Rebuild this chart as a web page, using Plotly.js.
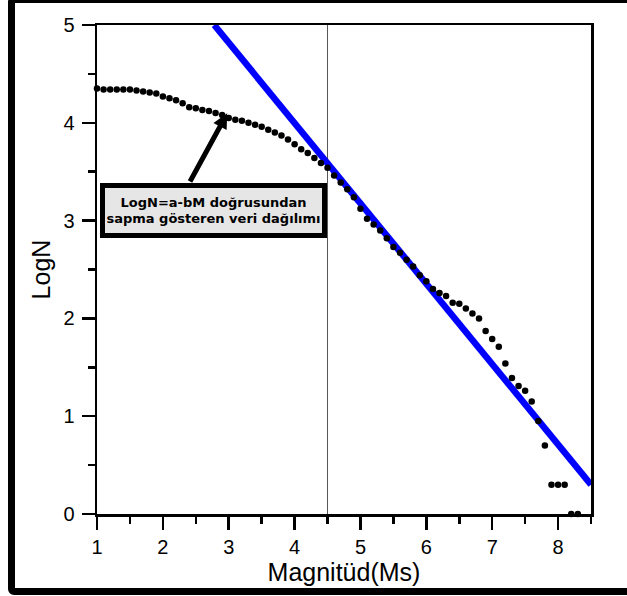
<!DOCTYPE html>
<html>
<head>
<meta charset="utf-8">
<script src="https://cdn.plot.ly/plotly-3.0.1.min.js"></script>
<style>
  html, body { margin: 0; padding: 0; background: #fff; overflow: hidden; }
  #wrap { position: relative; width: 627px; height: 596px; overflow: hidden; }
  #chart { position: absolute; left: 0; top: 0; width: 627px; height: 596px; }
  #frame {
    position: absolute; left: 8px; top: -4px; width: 640px; height: 599px;
    border: 7px solid #000; border-radius: 6px; box-sizing: border-box;
    pointer-events: none;
  }
</style>
</head>
<body>
<div id="wrap">
  <div id="chart"></div>
  <div id="frame"></div>
</div>
<script>
// Cumulative frequency–magnitude distribution (LogN vs Ms)
const magnitude = [
  1.0, 1.1, 1.2, 1.3, 1.4, 1.5, 1.6, 1.7, 1.8, 1.9,
  2.0, 2.1, 2.2, 2.3, 2.4, 2.5, 2.6, 2.7, 2.8, 2.9,
  3.0, 3.1, 3.2, 3.3, 3.4, 3.5, 3.6, 3.7, 3.8, 3.9,
  4.0, 4.1, 4.2, 4.3, 4.4, 4.5, 4.6, 4.7, 4.8, 4.9,
  5.0, 5.1, 5.2, 5.3, 5.4, 5.5, 5.6, 5.7, 5.8, 5.9,
  6.0, 6.1, 6.2, 6.3, 6.4, 6.5, 6.6, 6.7, 6.8, 6.9,
  7.0, 7.1, 7.2, 7.3, 7.4, 7.5, 7.6, 7.7, 7.8, 7.9,
  8.0, 8.1, 8.2, 8.3
];
const logN = [
  4.35, 4.34, 4.34, 4.34, 4.34, 4.34, 4.33, 4.32, 4.31, 4.30,
  4.27, 4.25, 4.23, 4.20, 4.16, 4.15, 4.13, 4.12, 4.10, 4.08,
  4.05, 4.03, 4.02, 4.00, 3.98, 3.96, 3.93, 3.90, 3.87, 3.83,
  3.78, 3.73, 3.69, 3.64, 3.59, 3.54, 3.46, 3.39, 3.32, 3.24,
  3.12, 3.02, 2.96, 2.90, 2.82, 2.73, 2.67, 2.60, 2.53, 2.44,
  2.38, 2.30, 2.26, 2.23, 2.16, 2.15, 2.10, 2.05, 2.00, 1.87,
  1.79, 1.71, 1.54, 1.39, 1.31, 1.26, 1.15, 0.95, 0.70, 0.30,
  0.30, 0.30, 0.00, 0.00
];

// LogN = a - bM reference line (end points)
const fitMagnitude = [2.78, 8.5];
const fitLogN = [5.0, 0.30];

// Magnitude where the data departs from the line
const breakMagnitude = 4.5;

// Annotation
const noteLines = ['LogN=a-bM doğrusundan', 'sapma gösteren veri dağılımı'];
const noteCenter = [2.771, 3.10];
const arrowTail = [2.40, 3.385];
const arrowTip = [2.977, 4.097];

const xTicks = [1, 2, 3, 4, 5, 6, 7, 8];
const yTicks = [0, 1, 2, 3, 4, 5];

const fontFamily = 'Liberation Sans, Arial, sans-serif';

const traces = [
  {
    x: fitMagnitude, y: fitLogN,
    type: 'scatter', mode: 'lines',
    line: { color: '#0000ff', width: 6.5 },
    hoverinfo: 'skip'
  },
  {
    x: magnitude, y: logN,
    type: 'scatter', mode: 'markers',
    marker: { color: '#000', size: 6.5 },
    cliponaxis: false
  }
];

function axisStyle(extra) {
  return Object.assign({
    showgrid: false, zeroline: false,
    showline: true, linecolor: '#000', linewidth: 2.5, mirror: true,
    ticks: 'outside', ticklen: 13, tickwidth: 2.5, tickcolor: '#000',
    tickfont: { family: fontFamily, size: 20, color: '#000' }
  }, extra);
}

const layout = {
  width: 627, height: 596,
  margin: { l: 97, r: 36, t: 25, b: 82 },
  paper_bgcolor: '#fff', plot_bgcolor: '#fff',
  showlegend: false,
  xaxis: axisStyle({
    range: [1, 8.5],
    tickmode: 'array', tickvals: xTicks, ticktext: xTicks.map(String),
    minor: { dtick: 0.5, tick0: 1, ticks: 'outside', ticklen: 7, tickwidth: 2.5, tickcolor: '#000', showgrid: false },
    title: { text: 'Magnitüd(Ms)', font: { family: fontFamily, size: 25, color: '#000' }, standoff: 4 }
  }),
  yaxis: axisStyle({
    range: [0, 5],
    tickmode: 'array', tickvals: yTicks, ticktext: yTicks.map(String),
    ticklabelstandoff: 3,
    minor: { dtick: 0.5, tick0: 0, ticks: 'outside', ticklen: 7, tickwidth: 2.5, tickcolor: '#000', showgrid: false },
    title: { text: 'LogN', font: { family: fontFamily, size: 25, color: '#000' }, standoff: 6 }
  }),
  shapes: [
    {
      type: 'line', xref: 'x', yref: 'y',
      x0: breakMagnitude, x1: breakMagnitude, y0: 0, y1: 5,
      line: { color: '#555', width: 1 }, layer: 'below'
    }
  ],
  annotations: [
    {
      x: arrowTip[0], y: arrowTip[1], xref: 'x', yref: 'y',
      ax: arrowTail[0], ay: arrowTail[1], axref: 'x', ayref: 'y',
      text: '', showarrow: true,
      arrowhead: 2, arrowsize: 0.6, arrowwidth: 5, arrowcolor: '#000'
    },
    {
      x: noteCenter[0], y: noteCenter[1], xref: 'x', yref: 'y',
      text: '<b>' + noteLines.join('<br>') + '</b>',
      showarrow: false,
      font: { family: 'DejaVu Sans, sans-serif', size: 13, color: '#000' },
      bgcolor: '#e6e6e6', bordercolor: '#000', borderwidth: 5, borderpad: 2,
      width: 213, height: 41, align: 'center', valign: 'middle'
    }
  ]
};

Plotly.newPlot('chart', traces, layout, { staticPlot: true, displayModeBar: false });
</script>
</body>
</html>
